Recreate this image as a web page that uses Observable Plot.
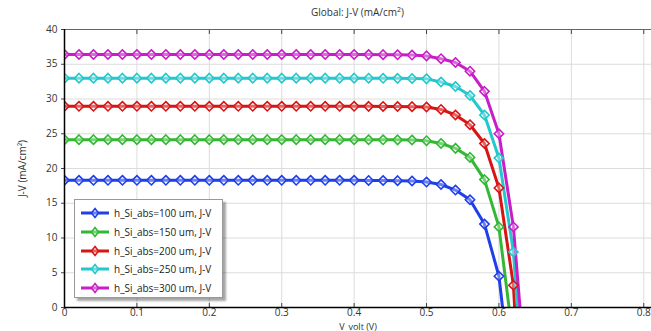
<!DOCTYPE html>
<html>
<head>
<meta charset="utf-8">
<script src="https://cdn.jsdelivr.net/npm/d3@7"></script>
<script src="https://cdn.jsdelivr.net/npm/@observablehq/plot@0.6"></script>
<style>
  html, body { margin: 0; padding: 0; background: #fff; }
  #wrap { position: relative; width: 651px; height: 331px; overflow: hidden; font-family: "Open Sans", "DejaVu Sans", sans-serif; }
  #title { position: absolute; left: 64px; right: 0; top: 5px; text-align: center; font-size: 10px; color: #333; }
  #legend { position: absolute; left: 74px; top: 199px; width: 147px; height: 97px; background: #fff; border: 1px solid #999; box-shadow: 3px 3px 2px rgba(0,0,0,0.35); font-size: 10px; color: #222; }
  .item { position: absolute; left: 6px; height: 14px; display: flex; align-items: center; }
  .item span { margin-left: 5px; white-space: nowrap; }
</style>
</head>
<body>
<div id="wrap">
  <div id="plot"></div>
  <div id="title">Global: J-V (mA/cm<sup style="font-size:7px">2</sup>)</div>
  <div id="legend"></div>
</div>
<script>
const seriesNames = ["h_Si_abs=100 um, J-V", "h_Si_abs=150 um, J-V", "h_Si_abs=200 um, J-V", "h_Si_abs=250 um, J-V", "h_Si_abs=300 um, J-V"];
const seriesColors = ["#1f3fe8", "#33b833", "#d81515", "#22c8cc", "#c81ec8"];
const voltage = [0,0.02,0.04,0.06,0.08,0.10,0.12,0.14,0.16,0.18,0.20,0.22,0.24,0.26,0.28,0.30,0.32,0.34,0.36,0.38,0.40,0.42,0.44,0.46,0.48,0.50,0.52,0.54,0.56,0.58,0.60,0.62,0.64];
const j100 = [18.3,18.3,18.3,18.3,18.3,18.3,18.3,18.3,18.3,18.3,18.3,18.3,18.3,18.3,18.3,18.3,18.3,18.3,18.3,18.3,18.3,18.28,18.27,18.25,18.2,18.05,17.7,16.9,15.5,12.0,4.5,-13.5];
const j150 = [24.15,24.15,24.15,24.15,24.15,24.15,24.15,24.15,24.15,24.15,24.15,24.15,24.15,24.15,24.15,24.15,24.15,24.15,24.15,24.15,24.15,24.14,24.13,24.12,24.1,24.0,23.6,22.9,21.6,18.4,11.6,-5.0];
const j200 = [28.95,28.95,28.95,28.95,28.95,28.95,28.95,28.95,28.95,28.95,28.95,28.95,28.95,28.95,28.95,28.95,28.95,28.95,28.95,28.95,28.95,28.94,28.93,28.92,28.9,28.85,28.5,27.7,26.3,23.6,17.2,3.2,-35.0];
const j250 = [33.0,33.0,33.0,33.0,33.0,33.0,33.0,33.0,33.0,33.0,33.0,33.0,33.0,33.0,33.0,33.0,33.0,33.0,33.0,33.0,33.0,32.99,32.98,32.97,32.95,32.9,32.45,31.8,30.5,27.7,21.5,8.0,-21.6];
const j300 = [36.4,36.4,36.4,36.4,36.4,36.4,36.4,36.4,36.4,36.4,36.4,36.4,36.4,36.4,36.4,36.4,36.4,36.4,36.4,36.4,36.4,36.39,36.38,36.36,36.32,36.2,35.8,35.25,34.0,31.1,25.0,11.6,-14.0];
const xTicks = [0,0.1,0.2,0.3,0.4,0.5,0.6,0.7,0.8];
const yTicks = [0,5,10,15,20,25,30,35,40];
const xLabel = "V_volt (V)";
const seriesValues = [j100, j150, j200, j250, j300];

const rows = [];
seriesValues.forEach((arr, s) => arr.forEach((j, i) => rows.push({series: seriesNames[s], V: voltage[i], J: j})));

const font = '"Open Sans", "DejaVu Sans", sans-serif';
const chart = Plot.plot({
  width: 651,
  height: 331,
  marginLeft: 64,
  marginRight: 0,
  marginTop: 29,
  marginBottom: 24,
  style: {fontFamily: font, fontSize: "10px", color: "#333", background: "#fff", overflow: "visible"},
  x: {domain: [0, 0.8107]},
  y: {domain: [0, 40]},
  color: {domain: seriesNames, range: seriesColors},
  marks: [
    Plot.gridX(xTicks, {stroke: "#dcdcdc", strokeOpacity: 1}),
    Plot.gridY(yTicks, {stroke: "#dcdcdc", strokeOpacity: 1}),
    Plot.frame({anchor: "top", stroke: "#666"}),
    Plot.axisX(xTicks, {anchor: "top", tickSize: -4, text: null, label: null, stroke: "#444"}),
    Plot.axisX(xTicks, {anchor: "bottom", tickSize: -4, text: null, label: null, stroke: "#444"}),
    Plot.axisX(xTicks, {anchor: "bottom", tickSize: 0, tickPadding: 1, tickFormat: d => d === 0 ? "0" : String(d), label: null, fill: "#333"}),
    Plot.text([xLabel], {frameAnchor: "bottom", lineAnchor: "bottom", dy: 22.5, fontSize: 9, fill: "#333"}),
    Plot.axisY(yTicks, {anchor: "left", tickSize: 3, tickPadding: 4, label: "J-V (mA/cm²)", labelAnchor: "center", labelArrow: "none", labelOffset: 46, fill: "#333", stroke: "#444"}),
    Plot.lineY(rows, {x: "V", y: "J", z: "series", stroke: "series", strokeWidth: 3, clip: true}),
    Plot.dot(rows, {x: "V", y: "J", stroke: "series", symbol: "diamond2", r: 4.2, strokeWidth: 1.6, fill: "white", fillOpacity: 0.35, clip: true}),
    Plot.ruleX([0], {stroke: "#000", strokeWidth: 1.5}),
    Plot.ruleY([0], {stroke: "#000", strokeWidth: 1.5})
  ]
});
document.getElementById("plot").appendChild(chart);

// legend
const legend = document.getElementById("legend");
seriesNames.forEach((name, i) => {
  const item = document.createElement("div");
  item.className = "item";
  item.style.top = (6 + i * 18.8) + "px";
  item.innerHTML = `<svg width="28" height="12"><line x1="0" y1="6" x2="28" y2="6" stroke="${seriesColors[i]}" stroke-width="3"/><path d="M14,1.5 L17.5,6 L14,10.5 L10.5,6 Z" fill="white" fill-opacity="0.35" stroke="${seriesColors[i]}" stroke-width="1.6"/></svg><span>${name}</span>`;
  legend.appendChild(item);
});
</script>
</body>
</html>
